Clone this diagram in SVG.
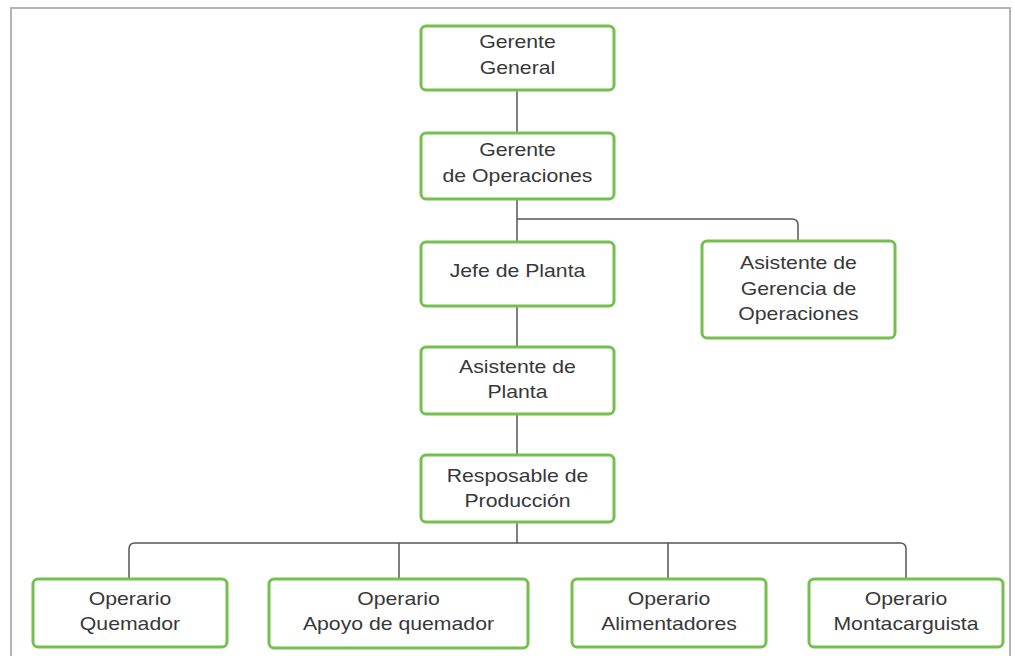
<svg xmlns="http://www.w3.org/2000/svg" width="1015" height="661" viewBox="0 0 1015 661">
<style>
.node rect{fill:#fff;stroke:#74c04f;stroke-width:3}
.node text{font-family:"Liberation Sans",Arial,sans-serif;font-size:18px;fill:#383838;text-anchor:middle;transform-box:fill-box;transform-origin:center;transform:scaleX(1.18)}
.conn path{fill:none;stroke:#555;stroke-width:1.5}
</style>
<rect x="0" y="0" width="1015" height="661" fill="#fff"/>
<path d="M11,656 V8 H1010 V656" fill="none" stroke="#b4b4b4" stroke-width="2"/>
<g id="connectors" class="conn">
<path d="M517,90 V133"/>
<path d="M517,199 V241"/>
<path d="M517,219 H792 Q798,219 798,225 V241"/>
<path d="M517,306 V346"/>
<path d="M517,414 V454"/>
<path d="M517,523 V543"/>
<path d="M135,543 H900 Q906,543 906,549 V579"/>
<path d="M135,543 Q129,543 129,549 V579"/>
<path d="M399,543 V579"/>
<path d="M668,543 V579"/>
</g>
<g id="gerente-general" class="node"><rect x="421" y="26" width="193" height="64" rx="5"/><text x="517.5" y="48">Gerente</text><text x="517.5" y="74">General</text></g>
<g id="gerente-operaciones" class="node"><rect x="421" y="133" width="193" height="66" rx="5"/><text x="517.5" y="156">Gerente</text><text x="517.5" y="182">de Operaciones</text></g>
<g id="jefe-planta" class="node"><rect x="421" y="242" width="193" height="64" rx="5"/><text x="517.5" y="277">Jefe de Planta</text></g>
<g id="asistente-gerencia" class="node"><rect x="702" y="241" width="193" height="97" rx="5"/><text x="798.5" y="269">Asistente de</text><text x="798.5" y="295">Gerencia de</text><text x="798.5" y="320">Operaciones</text></g>
<g id="asistente-planta" class="node"><rect x="421" y="347" width="193" height="67" rx="5"/><text x="517.5" y="373">Asistente de</text><text x="517.5" y="398">Planta</text></g>
<g id="responsable-produccion" class="node"><rect x="421" y="455" width="193" height="67" rx="5"/><text x="517.5" y="482">Resposable de</text><text x="517.5" y="507">Producción</text></g>
<g id="operario-quemador" class="node"><rect x="33" y="579" width="194" height="68" rx="5"/><text x="130" y="605">Operario</text><text x="130" y="630">Quemador</text></g>
<g id="operario-apoyo" class="node"><rect x="269" y="579" width="259" height="69" rx="5"/><text x="398.5" y="605">Operario</text><text x="398.5" y="630">Apoyo de quemador</text></g>
<g id="operario-alimentadores" class="node"><rect x="572" y="579" width="194" height="68" rx="5"/><text x="669" y="605">Operario</text><text x="669" y="630">Alimentadores</text></g>
<g id="operario-montacarguista" class="node"><rect x="809" y="579" width="194" height="68" rx="5"/><text x="906" y="605">Operario</text><text x="906" y="630">Montacarguista</text></g>
</svg>
